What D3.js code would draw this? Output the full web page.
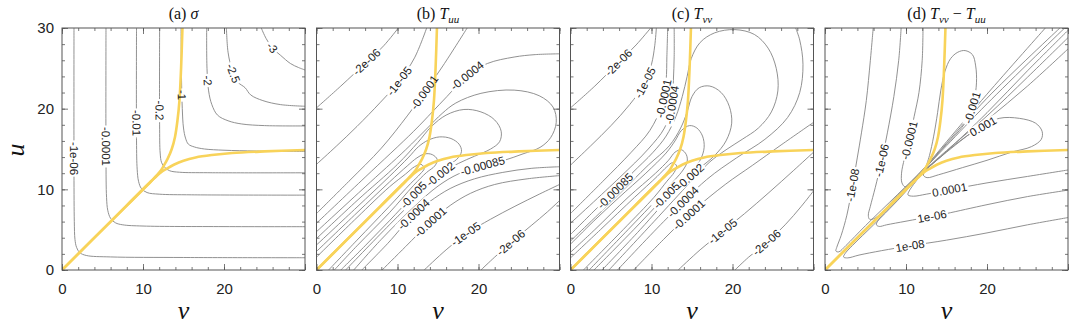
<!DOCTYPE html>
<html>
<head>
<meta charset="utf-8">
<script src="https://cdn.jsdelivr.net/npm/d3@7"></script>
<style>
body { margin: 0; background: #fff; }
</style>
</head>
<body>
<svg id="chart" width="1080" height="329"></svg>
<script>
// ---- data (v, u) ----
var xTickLabels = [0, 10, 20];
var yTickLabels = [0, 10, 20, 30];
var minorTicks = d3.range(0, 31, 2);

// yellow horizon curves
var horizonA = [[0,0],[6,6],[11,11],[12.2,12.1],[12.9,12.55],[13.8,13.05],[15,13.55],[16.5,13.95],[18.5,14.25],[21,14.5],[25,14.7],[30,14.87]];
var horizonB = [[0,0],[6,6],[11,11],[12.1,12.2],[12.55,12.9],[13.05,13.8],[13.55,15],[13.95,16.5],[14.25,18.5],[14.5,21],[14.7,25],[14.87,30]];

// (a) sigma
var sigmaLines = [
	{label: "-1e-06", at: [1.48,13.8], pts: [[1.48,30],[1.48,12],[1.52,6],[1.6,3.8],[1.8,2.8],[2.2,2.15],[3,1.8],[6,1.62],[15,1.55],[30,1.52]]},
	{label: "-0.0001", at: [5.43,15.3], pts: [[5.43,30],[5.43,14],[5.5,9],[5.65,7.4],[6,6.4],[6.6,5.85],[7.5,5.6],[10,5.45],[20,5.38],[30,5.37]]},
	{label: "-0.01", at: [9.2,18.2], pts: [[9.2,30],[9.2,16],[9.28,12.5],[9.45,11],[9.8,10.1],[10.5,9.6],[12,9.4],[16,9.32],[30,9.28]]},
	{label: "-0.2", at: [12.05,19.8], pts: [[12.05,30],[12.05,18],[12.12,14.5],[12.3,13.3],[12.7,12.7],[13.3,12.3],[14.5,12.12],[18,12.06],[30,12.05]]},
	{label: "-1", at: [14.75,21.7], pts: [[14.7,30],[14.75,24],[14.85,20],[15.0,17.6],[15.25,16.35],[15.6,15.6],[16.35,15.25],[17.6,15.0],[20,14.85],[24,14.75],[30,14.7]]},
	{label: "-2", at: [18.0,23.5], pts: [[17.86,30],[17.9,25],[18.1,22.2],[18.5,20.5],[19.2,19.2],[20.5,18.5],[22.2,18.1],[25,17.9],[30,17.86]]},
	{label: "-2.5", at: [21.2,24.4], pts: [[20.3,30],[20.5,27],[21.0,24.8],[21.7,23.3],[22.6,22.6],[23.3,21.7],[24.8,21.0],[27,20.5],[30,20.3]]},
	{label: "-3", at: [25.9,27.5], pts: [[24.6,30],[25.2,28.7],[26.0,27.5],[27.0,26.6],[28.2,25.6],[29.2,25.1],[30,24.8]]}
];

// (b) T_uu
var tuuLines = [
	{label: "-2e-06", at: [6.2,25.8], pts: [[0,20.1],[3,22.8],[6.2,25.8],[8.3,27.8],[10.1,30]]},
	{label: "-1e-05", at: [10.2,23.4], pts: [[0,13.1],[2.5,15.4],[5,17.8],[7.9,20.8],[10.2,23.4],[12.1,26.3],[13.6,30]]},
	{label: "-0.0001", at: [13.3,22.0], pts: [[0,7.0],[4,11],[8,15.1],[11.2,19.1],[13.3,22.0],[15.6,25.3],[18.6,30]]},
	{label: "-0.0004", at: [18.6,24.1], pts: [[0,5.8],[6,11.5],[12,17.2],[14.3,19.6],[16.1,21.5],[18.6,24.1],[21.1,25.6],[24.4,26.4],[27,26.7],[30,26.8]]},
	{label: "-0.00085", at: [20.5,12.9], pts: [[0,4.75],[6,10.3],[11,14.9],[13.7,17.6],[15.5,19.4],[17.2,20.7],[20.3,21.9],[24.4,22.3],[27.5,21.6],[29.2,20.2],[29.6,18.3],[28.9,16.4],[27.6,15.2],[25.5,14.4],[23.2,13.6],[20.5,12.9],[17.5,11.9],[15,10.4],[12,7.8],[8,3.8],[4.6,0]]},
	{label: "-0.002", at: [15.3,11.9], pts: [[0,3.9],[5,8.6],[10,13.1],[12.5,15.8],[14.2,17.8],[16,19.2],[18.2,19.9],[20.3,19.6],[22,18.6],[22.8,17.2],[22.6,15.9],[21.5,15.0],[19.5,14.1],[17.5,13.2],[15.3,11.9],[13,9.6],[9,5.6],[3.6,0]]},
	{label: "-0.005", at: [12,9.3], pts: [[0,3.1],[5,7.8],[9,11.6],[11.4,14.0],[12.6,15.3],[13.8,16.1],[15.2,16.5],[16.6,16.3],[17.6,15.6],[17.9,14.7],[17.3,13.7],[16,12.9],[14.5,11.8],[12,9.3],[9,6.1],[6,3.0],[3.0,0]]},
	{label: "", pts: [[0,2.3],[5,7.1],[9,10.9],[11.2,12.9],[12.4,13.9],[13.4,14.4],[14.3,14.3],[14.9,13.7],[14.6,12.9],[13.6,12.1],[12,10.5],[9,7.1],[5,3.0],[2.2,0]]},
	{label: "", pts: [[0,1.6],[5,6.5],[9,10.3],[11,11.9],[12.1,12.8],[12.9,13.1],[13.3,12.6],[12.8,11.9],[11.6,10.7],[9,7.9],[5,3.7],[1.5,0]]},
	{label: "-0.0004", at: [12,6.9], pts: [[5.6,0],[8.8,3.3],[12,6.9],[14,8.5],[16.5,10.1],[19.5,11.3],[23,12.1],[26.5,12.6],[30,12.8]]},
	{label: "-0.0001", at: [14,6.0], pts: [[8.1,0],[11,2.9],[14,5.9],[16.5,8.0],[19,9.5],[22,10.6],[26,11.3],[30,11.7]]},
	{label: "-1e-05", at: [18.4,4.5], pts: [[13.3,0],[16,2.5],[18.5,4.5],[21.5,6.3],[24.5,7.9],[27.5,9.4],[30,10.6]]},
	{label: "-2e-06", at: [24,3.4], pts: [[20.3,0],[22,1.6],[24,3.4],[26.5,5.5],[28.5,7.2],[30,8.6]]}
];

// (c) T_vv
var tvvLines = [
	{label: "-2e-06", at: [5.9,25.7], pts: [[0,20.1],[3,22.8],[5.9,25.7],[8.1,27.9],[9.9,30]]},
	{label: "-1e-05", at: [9.2,23.2], pts: [[0,13.0],[2.5,15.4],[5,17.9],[7.3,20.5],[9.2,23.2],[10.0,25.5],[10.4,27.8],[10.6,30]]},
	{label: "-0.0001", at: [11.4,21.3], pts: [[0,7.0],[4,11],[7.5,14.6],[9.8,17.3],[11.3,20.5],[11.8,23.5],[11.9,26.5],[12.0,30]]},
	{label: "-0.0004", at: [12.5,20.5], pts: [[0,5.8],[6,11.4],[9.6,15.0],[11.6,17.6],[12.5,20.3],[12.7,23.5],[12.8,26.5],[12.8,30]]},
	{label: "-0.00085", at: [5.5,9.8], pts: [[0,4.4],[3.6,8],[5.5,9.8],[7.6,12],[10.2,14.6],[11.8,16.6],[13.0,19],[13.8,21.5],[14.4,24],[14.9,26.2],[16.0,28.2],[17.8,29.4],[20.3,29.8],[22.7,29.2],[24.4,27.5],[25.4,25],[25.6,22.2],[24.8,19.6],[23.2,17.6],[21.2,16.2],[19.2,14.9],[17.2,13.4],[14.9,11],[10.3,6],[4.75,0]]},
	{label: "-0.002", at: [14.8,11.6], pts: [[3.9,0],[8.6,5],[13.1,10],[15.8,12.5],[17.8,14.2],[19.2,16],[19.9,18.2],[19.6,20.3],[18.6,22],[17.2,22.8],[15.9,22.6],[15.0,21.5],[14.4,19.6],[13.6,17.6],[12.2,15.4],[9.6,13],[5.6,9],[0,3.6]]},
	{label: "-0.005", at: [11.8,9.3], pts: [[2.9,0],[7.8,5],[11.6,9],[14.0,11.4],[15.3,12.6],[16.1,13.8],[16.5,15.2],[16.3,16.6],[15.6,17.6],[14.7,17.9],[13.7,17.3],[12.9,16],[11.8,14.5],[9.3,12],[6,9],[2.8,6],[0,3.2]]},
	{label: "", pts: [[2.3,0],[7.1,5],[10.9,9],[12.9,11.2],[13.9,12.4],[14.4,13.4],[14.3,14.3],[13.7,14.9],[12.9,14.6],[12.1,13.6],[10.5,12],[7.1,9],[3.0,5],[0,2.2]]},
	{label: "", pts: [[1.6,0],[6.5,5],[10.3,9],[11.9,11],[12.8,12.1],[13.1,12.9],[12.6,13.3],[11.9,12.8],[10.7,11.6],[7.9,9],[3.7,5],[0,1.5]]},
	{label: "-0.0004", at: [13.9,8.4], pts: [[5.8,0],[11.5,6],[16.8,11.2],[20.5,13.9],[24,16.2],[26.8,18.9],[28.3,22],[28.7,25.5],[28.3,28.5],[27.8,30]]},
	{label: "-0.0001", at: [14.6,6.8], pts: [[7.8,0],[11.5,3.8],[15.1,7.3],[19.1,10.6],[22.5,13],[26,15.5],[30,18.3]]},
	{label: "-1e-05", at: [18.8,4.8], pts: [[13.3,0],[16,2.5],[18.8,4.8],[21.5,7.0],[24.5,9.6],[27.5,12.3],[30,14.6]]},
	{label: "-2e-06", at: [24.2,3.4], pts: [[20.3,0],[22,1.6],[24.2,3.4],[26.5,5.6],[28.5,7.9],[30,9.8]]}
];

// (d) T_vv - T_uu
var diffLines = [
	{label: "-1e-08", at: [3.4,10.5], pts: [[5.95,30],[5.6,26],[5.1,21],[4.5,17],[4.0,14],[3.4,10.5],[2.7,6.8],[2.0,4.3],[1.45,2.8],[1.35,2.35],[1.7,2.25],[2.6,3.05],[5,5.5],[9,9.4],[12.3,12.7],[15,15.9],[20,21.8],[27.2,30]]},
	{label: "-1e-06", at: [7.0,13.6], pts: [[9.4,30],[9.1,26],[8.5,21.5],[7.7,17],[7.0,13.6],[6.2,10.2],[5.6,7.9],[5.35,6.8],[5.5,6.3],[6.2,6.45],[9,9.25],[12.3,12.65],[15,15.7],[20,21.3],[29,30]]},
	{label: "-0.0001", at: [10.4,16.1], pts: [[12.1,30],[12.0,26],[11.6,22],[11.0,19],[10.4,16.1],[9.8,13.8],[9.45,12],[9.5,10.8],[9.9,10.3],[10.6,10.6],[12.3,12.55],[15,15.4],[20,20.6],[29.9,30.3]]},
	{label: "-0.001", at: [18.5,20], pts: [[12.4,12.6],[12.9,14.2],[13.4,16.5],[13.9,19.5],[14.3,22.3],[14.8,24.6],[15.5,26.2],[16.4,27.0],[17.3,27.2],[18.2,26.7],[18.6,25.3],[18.7,23.2],[18.4,21],[17.7,18.9],[16.6,17.3],[15.1,15.7],[13.6,14.0],[12.4,12.6]]},
	{label: "1e-08", at: [10.5,3.0], pts: [[30,6.5],[25,5.6],[20,4.6],[15,3.7],[10.5,3.0],[7,2.4],[4.2,1.85],[2.8,1.5],[2.3,1.6],[2.45,2.0],[3.4,3.05],[6,5.6],[9,8.65],[12.3,12.3],[15,14.6],[20,18.6],[25,22.8],[30,27.4]]},
	{label: "1e-06", at: [13.2,6.6], pts: [[30,9.9],[25,9.1],[20,8.1],[15,7.0],[13.2,6.65],[10,6.05],[7.6,5.6],[6.7,5.4],[6.35,5.6],[6.6,6.2],[9,8.75],[12.3,12.35],[15,14.8],[20,19.1],[25,23.9],[30,28.8]]},
	{label: "0.0001", at: [15.4,9.95], pts: [[30,12.4],[25,11.6],[20,10.8],[15.4,9.95],[12.5,9.4],[10.9,9.15],[10.25,9.3],[10.4,9.8],[12.3,12.25],[15,14.7],[20,19.5],[25,24.7],[30,29.7]]},
	{label: "0.001", at: [19.5,17.8], pts: [[12.4,12.4],[12.15,11.75],[12.6,11.45],[14,11.8],[17,12.7],[20,13.6],[23,14.6],[25.5,15.3],[26.7,16.2],[26.8,17.2],[26,18.2],[24,18.8],[21.5,18.8],[19.5,17.8],[17.5,16.6],[15.5,15.1],[13.8,13.6],[12.4,12.4]]}
];

var panelLefts = [62, 316.5, 570.5, 825];
var panelLines = [sigmaLines, tuuLines, tvvLines, diffLines];
// title pieces: [text, italic, subscript]
var panelTitles = [
	[["(a) ", 0, 0], ["σ", 1, 0]],
	[["(b) ", 0, 0], ["T", 1, 0], ["uu", 1, 1]],
	[["(c) ", 0, 0], ["T", 1, 0], ["vv", 1, 1]],
	[["(d) ", 0, 0], ["T", 1, 0], ["vv", 1, 1], [" − ", 0, 0], ["T", 1, 0], ["uu", 1, 1]]
];

var panelW = 243, frameTop = 28, frameBottom = 270;
var svg = d3.select("#chart");
var defs = svg.append("defs");

var serif = "'Liberation Serif', 'Times New Roman', serif";
var sans = "'Liberation Sans', Arial, Helvetica, sans-serif";

panelLines.forEach(function (lines, i) {
	var left = panelLefts[i];
	var x = d3.scaleLinear().domain([0, 30]).range([left, left + panelW]);
	var y = d3.scaleLinear().domain([0, 30]).range([frameBottom, frameTop]);

	defs.append("clipPath").attr("id", "clip" + i)
		.append("rect")
		.attr("x", left).attr("y", frameTop)
		.attr("width", panelW).attr("height", frameBottom - frameTop);

	var line = d3.line()
		.x(function (d) { return x(d[0]); })
		.y(function (d) { return y(d[1]); })
		.curve(d3.curveCatmullRom.alpha(0.5));

	var plot = svg.append("g").attr("clip-path", "url(#clip" + i + ")");

	var paths = plot.selectAll(".contour")
		.data(lines)
		.enter().append("path")
		.attr("class", "contour")
		.attr("d", function (d) { return line(d.pts); })
		.attr("fill", "none")
		.attr("stroke", "#858585")
		.attr("stroke-width", 0.9);

	var bgLayer = plot.append("g");

	plot.selectAll(".horizon")
		.data([horizonA, horizonB])
		.enter().append("path")
		.attr("class", "horizon")
		.attr("d", line)
		.attr("fill", "none")
		.attr("stroke", "#f8d35a")
		.attr("stroke-width", 2.6)
		.attr("stroke-linecap", "round");

	var txtLayer = plot.append("g");

	// contour labels, placed on the nearest point of each line
	paths.each(function (d) {
		if (!d.label) return;
		var node = this, L = node.getTotalLength();
		var tx = x(d.at[0]), ty = y(d.at[1]);
		var best = 0, bd = Infinity;
		for (var l = 0; l <= L; l += 0.5) {
			var q = node.getPointAtLength(l);
			var dd = (q.x - tx) * (q.x - tx) + (q.y - ty) * (q.y - ty);
			if (dd < bd) { bd = dd; best = l; }
		}
		var p0 = node.getPointAtLength(Math.max(0, best - 5));
		var p1 = node.getPointAtLength(Math.min(L, best + 5));
		var ang = Math.atan2(p1.y - p0.y, p1.x - p0.x) * 180 / Math.PI;
		if (ang > 90) ang -= 180;
		if (ang <= -90) ang += 180;
		var c = node.getPointAtLength(best);
		var tf = "translate(" + c.x + "," + c.y + ") rotate(" + ang + ")";

		var t = txtLayer.append("text")
			.attr("transform", tf)
			.attr("text-anchor", "middle")
			.attr("dy", "0.35em")
			.attr("font-family", sans)
			.attr("font-size", 11.5)
			.attr("fill", "#222")
			.text(d.label);
		var bb = t.node().getBBox();
		bgLayer.append("rect")
			.attr("transform", tf)
			.attr("x", -bb.width / 2 - 1.5)
			.attr("y", -5)
			.attr("width", bb.width + 3)
			.attr("height", 10)
			.attr("fill", "#fff");
	});

	// ticks on all four sides, pointing in
	var axes = svg.append("g")
		.attr("font-family", sans);
	function tickAxis(axisFn, scale, pos, len, labels) {
		var ax = axisFn(scale).tickValues(minorTicks).tickSizeInner(-len).tickSizeOuter(0)
			.tickFormat(function () { return ""; });
		if (labels) ax = axisFn(scale).tickValues(labels).tickSizeInner(-len).tickSizeOuter(0).tickPadding(axisFn === d3.axisBottom ? 13 : 8);
		var g = axes.append("g").attr("transform", pos).call(ax);
		g.select(".domain").remove();
		g.selectAll("line").attr("stroke", "#555").attr("stroke-width", 0.8);
		g.selectAll("text").attr("font-size", 15).attr("fill", "#222").attr("font-family", sans);
		return g;
	}
	var majors = [0, 10, 20, 30];
	tickAxis(d3.axisBottom, x, "translate(0," + frameBottom + ")", 3);
	var xl = tickAxis(d3.axisBottom, x, "translate(0," + frameBottom + ")", 6, majors);
	xl.selectAll("g.tick text").filter(function (v) { return xTickLabels.indexOf(v) < 0; }).remove();
	tickAxis(d3.axisTop, x, "translate(0," + frameTop + ")", 3);
	tickAxis(d3.axisTop, x, "translate(0," + frameTop + ")", 6, majors).selectAll("text").remove();
	tickAxis(d3.axisLeft, y, "translate(" + left + ",0)", 3);
	var yl = tickAxis(d3.axisLeft, y, "translate(" + left + ",0)", 6, yTickLabels);
	if (i > 0) yl.selectAll("text").remove();
	tickAxis(d3.axisRight, y, "translate(" + (left + panelW) + ",0)", 3);
	tickAxis(d3.axisRight, y, "translate(" + (left + panelW) + ",0)", 6, majors).selectAll("text").remove();

	// frame
	svg.append("rect")
		.attr("x", left).attr("y", frameTop)
		.attr("width", panelW).attr("height", frameBottom - frameTop)
		.attr("fill", "none")
		.attr("stroke", "#555")
		.attr("stroke-width", 1);

	// title
	var title = svg.append("text")
		.attr("x", left + panelW / 2)
		.attr("y", 19)
		.attr("text-anchor", "middle")
		.attr("font-family", serif)
		.attr("font-size", 16)
		.attr("fill", "#111");
	var shifted = false;
	panelTitles[i].forEach(function (part) {
		var ts = title.append("tspan").text(part[0]);
		if (part[1]) ts.attr("font-style", "italic");
		if (part[2]) { ts.attr("dy", 4).attr("font-size", 11); shifted = true; }
		else if (shifted) { ts.attr("dy", -4); shifted = false; }
	});

	// v label
	svg.append("text")
		.attr("x", left + panelW / 2)
		.attr("y", 319)
		.attr("text-anchor", "middle")
		.attr("font-family", serif)
		.attr("font-style", "italic")
		.attr("font-size", 26)
		.attr("fill", "#111")
		.text("v");
});

// u label
svg.append("text")
	.attr("transform", "translate(24,150) rotate(-90)")
	.attr("text-anchor", "middle")
	.attr("font-family", serif)
	.attr("font-style", "italic")
	.attr("font-size", 26)
	.attr("fill", "#111")
	.text("u");
</script>
</body>
</html>
